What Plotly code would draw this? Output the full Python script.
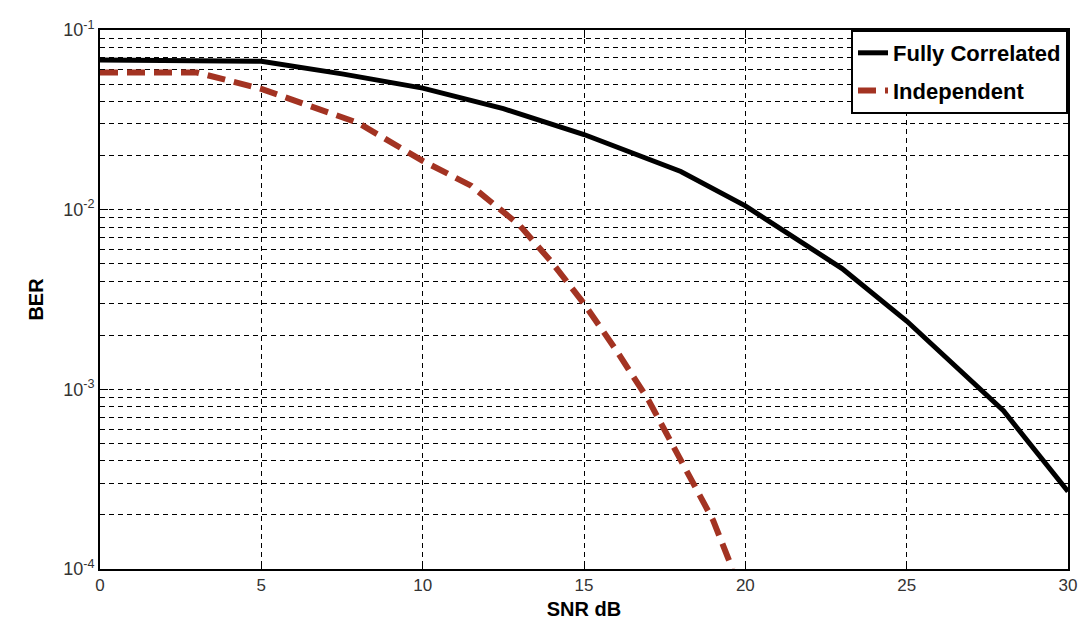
import plotly.graph_objects as go

snr_fc = [0, 3, 5, 7.5, 10, 12.5, 15, 18, 20, 23, 25, 28, 30]
ber_fc = [0.068, 0.068, 0.067, 0.057, 0.0475, 0.0365, 0.0262, 0.0163, 0.0105, 0.0047, 0.0024, 0.00076, 0.00027]

snr_ind = [0, 3, 5, 8, 10, 11.5, 13, 14, 15, 16, 17, 18, 19, 19.6]
ber_ind = [0.058, 0.058, 0.047, 0.0304, 0.0187, 0.0136, 0.0082, 0.0051, 0.0030, 0.00165, 0.00087, 0.00041, 0.000187, 0.0001]

x_ticks = [0, 5, 10, 15, 20, 25, 30]
y_ticks = [1e-4, 1e-3, 1e-2, 1e-1]
y_ticklabels = ["10<sup>-4</sup>", "10<sup>-3</sup>", "10<sup>-2</sup>", "10<sup>-1</sup>"]
y_minor = [m * 10.0 ** e for e in (-4, -3, -2) for m in range(2, 10)]

fig = go.Figure()
fig.add_trace(go.Scatter(x=snr_fc, y=ber_fc, mode="lines", name="<b>Fully Correlated</b>",
                         legendgroup="a",
                         line=dict(color="black", width=5)))
fig.add_trace(go.Scatter(x=snr_ind, y=ber_ind, mode="lines", name="<b>Independent</b>",
                         legendgroup="b",
                         line=dict(color="#A33322", width=6, dash="18px,9px")))

grid_dash = "5px,4px"
fig.update_layout(
    width=1084, height=630,
    margin=dict(l=100, r=16, t=30, b=61, autoexpand=False),
    paper_bgcolor="white", plot_bgcolor="white",
    font=dict(family="Liberation Sans, Arial", color="#333333", size=16),
    showlegend=True,
    legend=dict(x=1, y=1, xanchor="right", yanchor="top",
                bgcolor="white", bordercolor="black", borderwidth=2,
                font=dict(size=22, color="black", family="Liberation Sans, Arial"),
                tracegroupgap=6),
    xaxis=dict(range=[0, 30], tickmode="array", tickvals=x_ticks, automargin=False,
               showgrid=True, gridcolor="black", griddash=grid_dash, gridwidth=1,
               showline=True, linecolor="black", linewidth=2, mirror="ticks",
               ticks="inside", ticklen=8, tickcolor="black", zeroline=False,
               tickfont=dict(size=17, color="#333333"),
               title=dict(text="<b>SNR dB</b>", font=dict(size=20, color="black"), standoff=8)),
    yaxis=dict(type="log", range=[-4, -1], tickmode="array", tickvals=y_ticks,
               ticktext=y_ticklabels, automargin=False,
               showgrid=True, gridcolor="black", griddash=grid_dash, gridwidth=1,
               showline=True, linecolor="black", linewidth=2, mirror="ticks",
               ticks="inside", ticklen=8, tickcolor="black", zeroline=False,
               tickfont=dict(size=18, color="#333333"),
               minor=dict(tickmode="array", tickvals=y_minor, showgrid=True,
                          gridcolor="black", griddash=grid_dash, gridwidth=1,
                          ticks="inside", ticklen=5, tickcolor="black"),
               title=dict(text="<b>BER</b>", font=dict(size=20, color="black"), standoff=14)),
)

fig.write_html("out.html")
